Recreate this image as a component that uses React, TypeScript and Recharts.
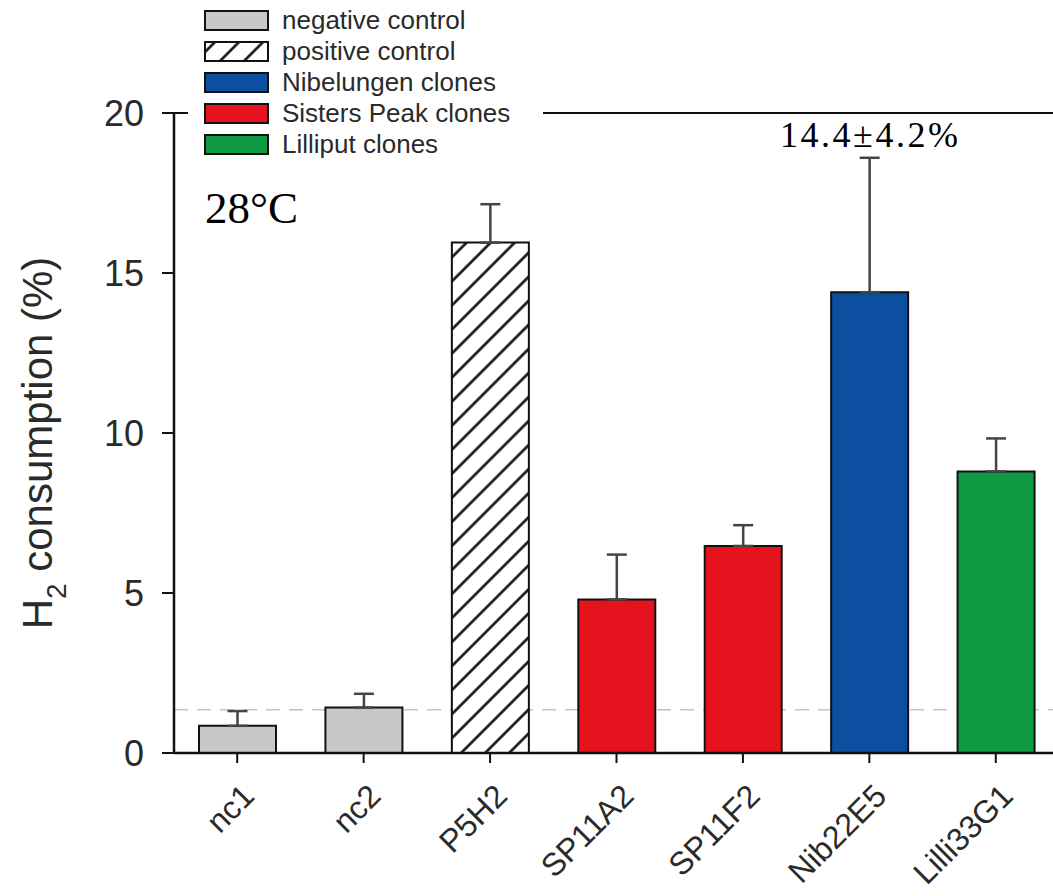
import { Bar, BarChart, CartesianGrid, Cell, ErrorBar, ReferenceLine, XAxis, YAxis } from 'recharts';

// H2 consumption at 28°C per clone
const categories = ['nc1', 'nc2', 'P5H2', 'SP11A2', 'SP11F2', 'Nib22E5', 'Lilli33G1'];
const values = [0.85, 1.42, 15.95, 4.8, 6.47, 14.4, 8.8];
const errors = [0.46, 0.43, 1.2, 1.4, 0.65, 4.2, 1.03];
const groups = ['negative', 'negative', 'positive', 'sisters', 'sisters', 'nibelungen', 'lilliput'];
const yTicks = [0, 5, 10, 15, 20];
const baseline = 1.35;

const legendItems = [
  { key: 'negative', label: 'negative control' },
  { key: 'positive', label: 'positive control' },
  { key: 'nibelungen', label: 'Nibelungen clones' },
  { key: 'sisters', label: 'Sisters Peak clones' },
  { key: 'lilliput', label: 'Lilliput clones' },
];

const GROUP_FILL: Record<string, string> = {
  negative: '#c8c8c8',
  positive: 'url(#hatch)',
  nibelungen: '#0c4ea0',
  sisters: '#e5131d',
  lilliput: '#0f9a43',
};

const data = categories.map((name, i) => ({
  name,
  value: values[i],
  err: [0, errors[i]],
  group: groups[i],
}));

const TEXT = '#2a2a2a';

function XTick({ x, y, payload }: any) {
  return (
    <text
      x={x + 19}
      y={y + 33}
      transform={`rotate(-45 ${x + 19} ${y + 33})`}
      textAnchor="end"
      fontSize={32}
      fill={TEXT}
    >
      {payload.value}
    </text>
  );
}

function YLabel() {
  const cx = 52;
  const cy = 443;
  return (
    <text x={cx} y={cy} transform={`rotate(-90 ${cx} ${cy})`} textAnchor="middle" fontSize={42} fill={TEXT}>
      H
      <tspan fontSize={28} dy={14}>2</tspan>
      <tspan dy={-14}> consumption (%)</tspan>
    </text>
  );
}

function LegendBox() {
  return (
    <div style={{ position: 'absolute', left: 188, top: 0, background: '#fff', width: 355, height: 162, paddingTop: 5 }}>
      {legendItems.map((item) => (
        <div key={item.key} style={{ display: 'flex', alignItems: 'center', height: 31 }}>
          <svg width={66} height={22} style={{ marginLeft: 16 }}>
            <rect x={1} y={1} width={63} height={19} fill={GROUP_FILL[item.key]} stroke="#111" strokeWidth={2} />
          </svg>
          <span style={{ marginLeft: 12, fontSize: 26, color: '#2a2a2a', lineHeight: '31px' }}>{item.label}</span>
        </div>
      ))}
    </div>
  );
}

export default function App() {
  return (
    <div
      style={{
        position: 'absolute',
        left: 0,
        top: 0,
        width: 1053,
        height: 896,
        overflow: 'hidden',
        background: '#fff',
        fontFamily: '"Liberation Sans", Arial, sans-serif',
      }}
    >
      <svg width={0} height={0} style={{ position: 'absolute' }}>
        <defs>
          <pattern id="hatch" patternUnits="userSpaceOnUse" width={17} height={17} patternTransform="rotate(45)">
            <rect width={17} height={17} fill="#fff" />
            <line x1={8.5} y1={0} x2={8.5} y2={17} stroke="#111" strokeWidth={2.6} />
          </pattern>
        </defs>
      </svg>
      <BarChart width={1075} height={896} data={data} margin={{ top: 113, right: 16, bottom: 43, left: 0 }}>
        <CartesianGrid
          vertical={false}
          horizontalValues={[baseline]}
          stroke="#c4c4c4"
          strokeWidth={1.5}
          strokeDasharray="14 9"
        />
        <XAxis
          dataKey="name"
          height={100}
          tick={<XTick />}
          tickSize={10}
          tickLine={{ stroke: '#111', strokeWidth: 2 }}
          axisLine={{ stroke: '#111', strokeWidth: 2.5 }}
          interval={0}
        />
        <YAxis
          width={174}
          domain={[0, 20]}
          ticks={yTicks}
          tickSize={12}
          tickMargin={18}
          tick={{ fontSize: 36, fill: TEXT }}
          tickLine={{ stroke: '#111', strokeWidth: 2 }}
          axisLine={{ stroke: '#111', strokeWidth: 2.5 }}
          label={<YLabel />}
        />
        <ReferenceLine y={20} stroke="#111" strokeWidth={2} />
        <Bar dataKey="value" barSize={77} stroke="#111" strokeWidth={2} isAnimationActive={false}>
          {data.map((d) => (
            <Cell key={d.name} fill={GROUP_FILL[d.group]} />
          ))}
          <ErrorBar dataKey="err" direction="y" width={10} stroke="#444" strokeWidth={2.5} />
        </Bar>
      </BarChart>
      <LegendBox />
      <svg width={1053} height={896} style={{ position: 'absolute', left: 0, top: 0, pointerEvents: 'none' }}>
        <text x={205} y={223} fontSize={45} fontFamily='"Liberation Serif", "Times New Roman", serif' fill="#000">
          28°C
        </text>
        <text
          x={780}
          y={147}
          fontSize={36}
          textLength={178}
          lengthAdjust="spacing"
          fontFamily='"Liberation Serif", "Times New Roman", serif'
          fill="#000"
        >
          14.4±4.2%
        </text>
      </svg>
    </div>
  );
}
